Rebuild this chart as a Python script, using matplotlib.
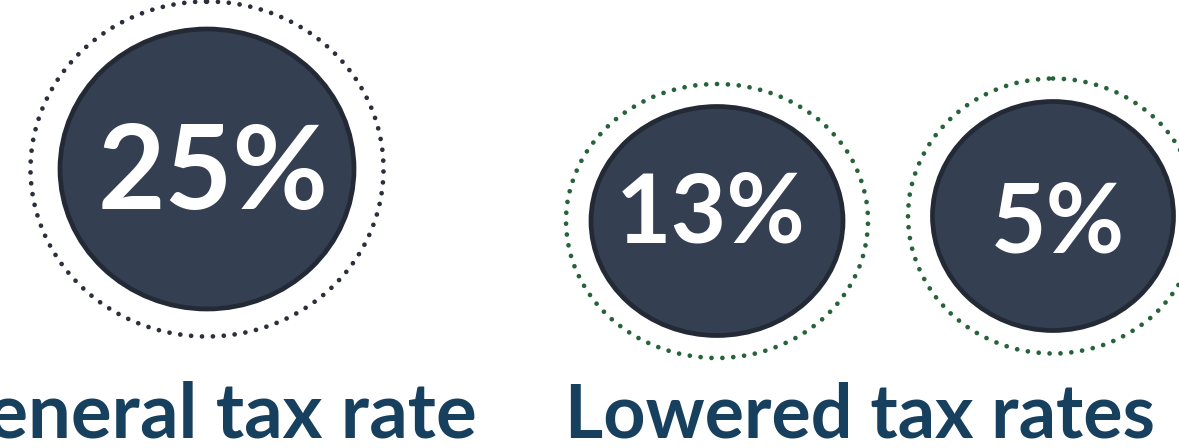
import matplotlib
matplotlib.use('Agg')
import matplotlib.pyplot as plt
from matplotlib.patches import Ellipse

# values shown
rates = [25, 13, 5]
rate_labels = [f'{r}%' for r in rates]
captions = ['General tax rate', 'Lowered tax rates']

# layout (pixels, y down)
centers = [(207, 169), (717, 221), (1053, 216)]
inner_r = [(147, 140), (126, 114.5), (120.5, 114.5)]
ring_r = [(176.5, 167.5), (151, 137), (145, 137.5)]
text_pos = [(213, 175), (711, 215), (1058, 225)]
text_size = [84, 69, 69]
ring_colors = ['#2b2f3c', '#27633a', '#27633a']

FILL = '#343f51'
EDGE = '#232a36'
CAPTION = '#173f5e'

W, H = 1179, 448
fig = plt.figure(figsize=(W / 100, H / 100), dpi=100)
ax = fig.add_axes([0, 0, 1, 1])
ax.set_xlim(0, W)
ax.set_ylim(H, 0)
ax.set_axis_off()

for (cx, cy), (rx, ry), (ox, oy), col in zip(centers, inner_r, ring_r, ring_colors):
    ring = Ellipse((cx, cy), 2 * ox, 2 * oy, fill=False, edgecolor=col,
                   linewidth=3.4, linestyle=(0, (0.01, 2.3)), capstyle='round')
    ax.add_patch(ring)
    disc = Ellipse((cx, cy), 2 * rx, 2 * ry, facecolor=FILL, edgecolor=EDGE,
                   linewidth=3.4)
    ax.add_patch(disc)

for lab, (tx, ty), sz in zip(rate_labels, text_pos, text_size):
    ax.text(tx, ty, lab, ha='center', va='center', color='white',
            fontsize=sz, fontfamily='Lato', fontweight='bold')

# left caption runs off the left edge in the original
ax.text(477, 437, captions[0], ha='right', va='baseline', color=CAPTION,
        fontsize=54.8, fontfamily='Lato', fontweight='bold')
ax.text(860, 437, captions[1], ha='center', va='baseline', color=CAPTION,
        fontsize=53, fontfamily='Lato', fontweight='bold')

fig.savefig('out.png', dpi=100)
